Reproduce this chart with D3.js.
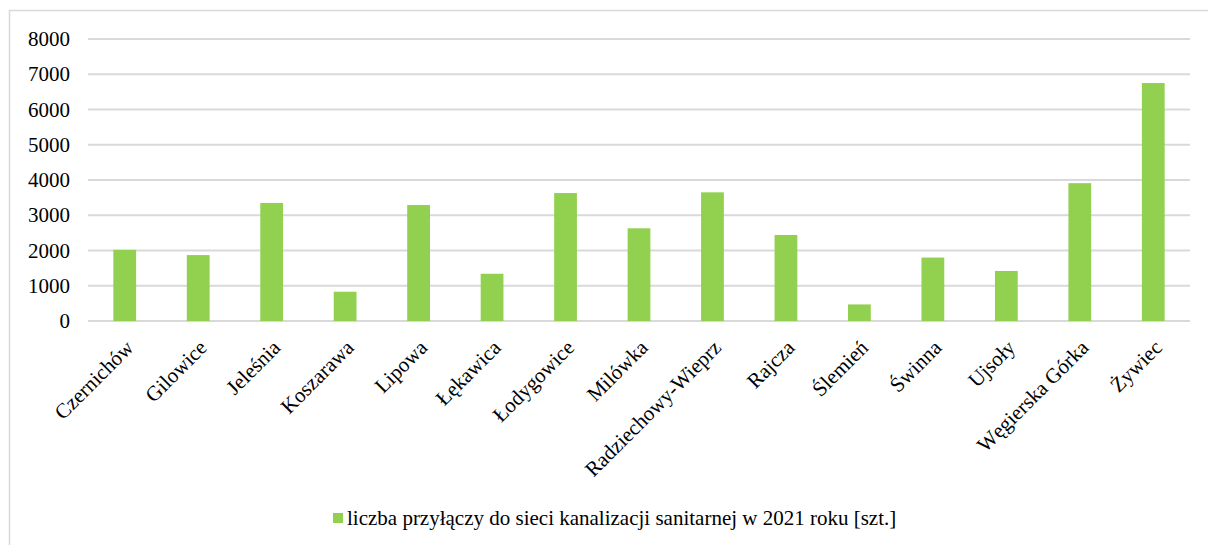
<!DOCTYPE html>
<html>
<head>
<meta charset="utf-8">
<script src="https://cdn.jsdelivr.net/npm/d3@7"></script>
<style>
  body { margin: 0; background: #fff; }
  svg text { font-family: "Liberation Serif", "Times New Roman", serif; fill: #000; }
</style>
</head>
<body>
<script>
var gminy = ["Czernichów", "Gilowice", "Jeleśnia", "Koszarawa", "Lipowa", "Łękawica", "Łodygowice",
  "Milówka", "Radziechowy-Wieprz", "Rajcza", "Ślemień", "Świnna", "Ujsoły", "Węgierska Górka", "Żywiec"];
var przylacza = [2020, 1870, 3350, 830, 3290, 1340, 3630, 2630, 3650, 2440, 470, 1800, 1420, 3910, 6750];
var yTicks = [0, 1000, 2000, 3000, 4000, 5000, 6000, 7000, 8000];
var legendLabel = "liczba przyłączy do sieci kanalizacji sanitarnej w 2021 roku [szt.]";

var W = 1208, H = 545;
var margin = {top: 39, right: 18, bottom: 224, left: 88};
var width = W - margin.left - margin.right,
    height = H - margin.top - margin.bottom;

var serif = '"Liberation Serif", "Times New Roman", serif';

var svg = d3.select("body").append("svg")
  .attr("width", W)
  .attr("height", H);

// ramka (widać tylko górę i lewą stronę)
svg.append("path")
  .attr("d", "M9.5," + (H + 5) + "V10.5H" + (W + 5))
  .style("fill", "none")
  .style("stroke", "#d9d9d9")
  .style("stroke-width", 1.5);

var g = svg.append("g")
  .attr("transform", "translate(" + margin.left + "," + margin.top + ")");

var x = d3.scaleBand()
  .domain(gminy)
  .range([0, width])
  .paddingInner(0.69)
  .paddingOuter(0.345);

var y = d3.scaleLinear()
  .domain([0, 8000])
  .range([height, 0]);

// siatka
g.selectAll(".grid").data(yTicks).enter()
  .append("line")
  .attr("class", "grid")
  .attr("x1", 0)
  .attr("x2", width)
  .attr("y1", d => y(d))
  .attr("y2", d => y(d))
  .style("stroke", "#d9d9d9")
  .style("stroke-width", 2);

// słupki
g.selectAll(".bar").data(przylacza).enter()
  .append("rect")
  .attr("class", "bar")
  .attr("x", (d, i) => x(gminy[i]))
  .attr("width", x.bandwidth())
  .attr("y", d => y(d))
  .attr("height", d => height - y(d))
  .style("fill", "#92d050");

// oś Y
var yAxis = d3.axisLeft(y)
  .tickValues(yTicks)
  .tickSize(0)
  .tickPadding(18)
  .tickFormat(d3.format("d"));

g.append("g")
  .attr("class", "y axis")
  .call(yAxis)
  .call(s => s.select(".domain").remove())
  .selectAll("text")
  .style("font-family", serif)
  .style("font-size", "21px");

// oś X
var xAxis = d3.axisBottom(x).tickSize(0).tickPadding(0);

g.append("g")
  .attr("class", "x axis")
  .attr("transform", "translate(0," + height + ")")
  .call(xAxis)
  .call(s => s.select(".domain").remove())
  .selectAll("text")
  .style("font-family", serif)
  .style("font-size", "21px")
  .attr("text-anchor", "end")
  .attr("y", 0)
  .attr("dy", 0)
  .attr("transform", "translate(10,28) rotate(-45)");

// legenda
var legend = svg.append("g")
  .attr("transform", "translate(333,518)");

legend.append("rect")
  .attr("x", 0)
  .attr("y", -5)
  .attr("width", 10)
  .attr("height", 10)
  .style("fill", "#92d050");

legend.append("text")
  .attr("x", 14)
  .attr("y", 0)
  .attr("dy", "0.35em")
  .style("font-family", serif)
  .style("font-size", "21px")
  .text(legendLabel);
</script>
</body>
</html>
